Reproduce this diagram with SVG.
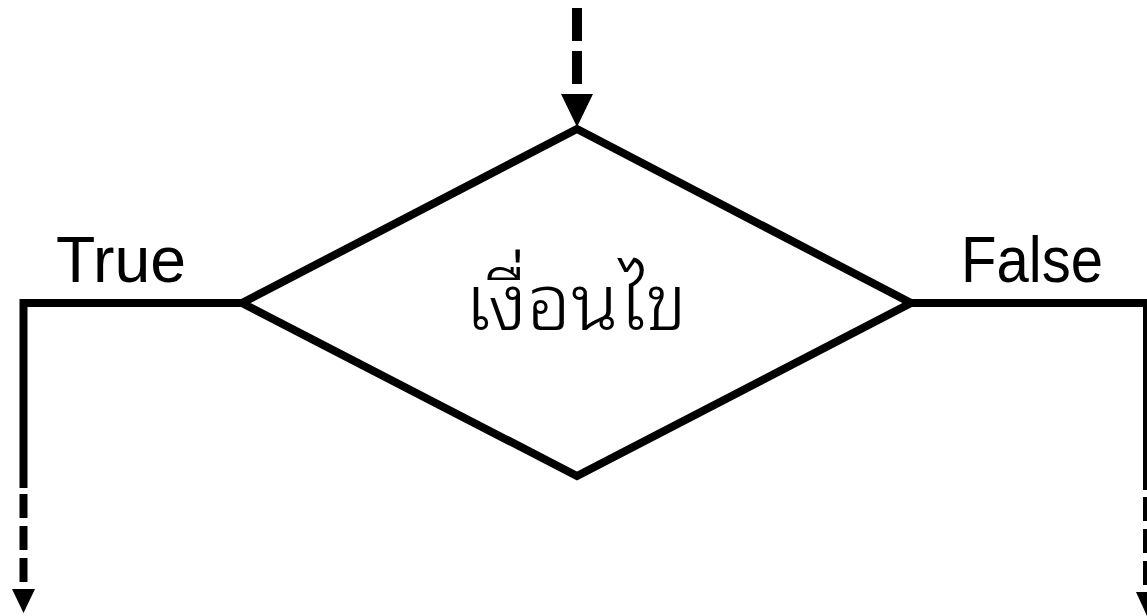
<svg xmlns="http://www.w3.org/2000/svg" width="1147" height="616" viewBox="0 0 1147 616">
<style>
.ln{fill:none;stroke:#000;stroke-width:8}
.dash{fill:none;stroke:#000;stroke-width:8;stroke-dasharray:24 8}
.lbl{font-family:"Liberation Sans",Arial,sans-serif;font-size:64px;fill:#000}
.th{font-family:"Noto Sans Thai Looped","Noto Serif Thai","Loma","Garuda","Norasi","Kinnari","Noto Sans Thai","Noto Sans","DejaVu Sans",sans-serif;font-size:78px;font-weight:300;fill:#000}
</style>
<rect width="1147" height="616" fill="#fff"/>
<g id="connectors">
<line x1="577" y1="8" x2="577" y2="84" style="fill:none;stroke:#000;stroke-width:10;stroke-dasharray:33 10"/>
<polygon points="561,94 593,94 577,127"/>
<polyline class="ln" points="242,303 23.5,303 23.5,488"/>
<line class="dash" x1="23.5" y1="494" x2="23.5" y2="582"/>
<polygon points="12,589 35,589 23.5,613"/>
<polyline class="ln" points="911,303 1147,303 1147,490"/>
<line class="dash" x1="1147" y1="497" x2="1147" y2="585"/>
<polygon points="1136,592 1159,592 1147,616"/>
</g>
<g id="decision">
<polygon points="577,129 911,303 577,476 242,303" style="fill:none;stroke:#000;stroke-width:8;stroke-linejoin:miter"/>
<text class="th" x="576" y="330" text-anchor="middle">เงื่อนไข</text>
</g>
<g id="label-true"><text class="lbl" x="56" y="282" textLength="130" lengthAdjust="spacingAndGlyphs">True</text></g>
<g id="label-false"><text class="lbl" x="961" y="282" textLength="142" lengthAdjust="spacingAndGlyphs">False</text></g>
</svg>
